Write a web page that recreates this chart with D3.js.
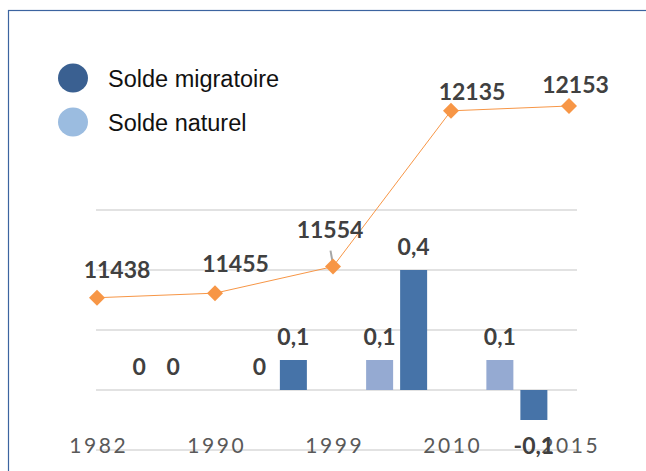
<!DOCTYPE html>
<html>
<head>
<meta charset="utf-8">
<script src="https://cdnjs.cloudflare.com/ajax/libs/d3/7.8.5/d3.min.js"></script>
<style>
	html, body { margin: 0; padding: 0; background: #fff; }
	svg { display: block; }
</style>
</head>
<body>
<div id="chart"></div>
<script>
//-------------------------------------
// data
//-------------------------------------
var years = ["1982", "1990", "1999", "2010", "2015"];
var population = [11438, 11455, 11554, 12135, 12153];

var periods = ["1982-1990", "1990-1999", "1999-2010", "2010-2015"];
var soldeNaturel = [0, 0, 0.1, 0.1];
var soldeMigratoire = [0, 0.1, 0.4, -0.1];

var gridValues = [-0.2, 0, 0.2, 0.4, 0.6];

var legendLabels = ["Solde migratoire", "Solde naturel"];

// label nudges (dx, dy of the population labels)
var popLabelNudge = [[20, -20], [20.5, -21], [-3, -29], [21, -11], [6.5, -13.5]];

//-------------------------------------
// field
//-------------------------------------
var width = 646;
var height = 471;

var svg = d3.select("#chart")
	.append("svg")
	.attr("width", width)
	.attr("height", height)
	.style("background", "#fff");

// frame
svg.append("rect")
	.attr("x", 8.5)
	.attr("y", 10.5)
	.attr("width", 700)
	.attr("height", 500)
	.style("fill", "none")
	.style("stroke", "#3c64a0")
	.style("stroke-width", 1.2);

//-------------------------------------
// scales
//-------------------------------------
var x0 = d3.scaleBand()
	.domain(periods)
	.range([96, 577])
	.padding(0);

var x1 = d3.scaleBand()
	.domain(["naturel", "migratoire"])
	.range([x0.bandwidth() / 2 - 30.5, x0.bandwidth() / 2 + 30.5])
	.paddingInner(7 / 34);

var yBar = d3.scaleLinear()
	.domain([-0.2, 0.6])
	.range([450, 210]);

var xLine = d3.scalePoint()
	.domain(years)
	.range([97, 569]);

var yLine = d3.scaleLinear()
	.domain([11400, 12200])
	.range([307.9, 93.4]);

var barColors = { naturel: "#95aad2", migratoire: "#4673a8" };
var legendColors = ["#3a6091", "#9bbce0"];

//-------------------------------------
// grid
//-------------------------------------
svg.append("g")
	.selectAll("line")
	.data(gridValues)
	.enter()
	.append("line")
	.attr("x1", 96)
	.attr("x2", 577)
	.attr("y1", function(d) { return yBar(d); })
	.attr("y2", function(d) { return yBar(d); })
	.style("stroke", "#d9d9d9")
	.style("stroke-width", 1.6);

//-------------------------------------
// x axis labels
//-------------------------------------
var xAxis = d3.axisBottom(xLine).tickSize(0).tickPadding(0);
var axisG = svg.append("g")
	.attr("transform", "translate(0,438)")
	.call(xAxis);
axisG.select(".domain").remove();
axisG.selectAll("text")
	.attr("dy", 0)
	.attr("y", 15)
	.attr("dx", 1.3)
	.style("font-family", "Lato, 'Open Sans', sans-serif")
	.style("font-size", "21px")
	.style("letter-spacing", "2.6px")
	.style("fill", "#595959");

//-------------------------------------
// bars
//-------------------------------------
var barData = [];
periods.forEach(function(p, i) {
	barData.push({ period: p, key: "naturel", value: soldeNaturel[i] });
	barData.push({ period: p, key: "migratoire", value: soldeMigratoire[i] });
});

var barG = svg.append("g");

barG.selectAll("rect")
	.data(barData)
	.enter()
	.append("rect")
	.attr("x", function(d) { return x0(d.period) + x1(d.key); })
	.attr("width", x1.bandwidth())
	.attr("y", function(d) { return yBar(Math.max(0, d.value)); })
	.attr("height", function(d) { return Math.abs(yBar(d.value) - yBar(0)); })
	.style("fill", function(d) { return barColors[d.key]; });

barG.selectAll("text")
	.data(barData)
	.enter()
	.append("text")
	.attr("x", function(d) { return x0(d.period) + x1(d.key) + x1.bandwidth() / 2; })
	.attr("y", function(d) {
		return d.value < 0 ? yBar(d.value) + 34 : yBar(d.value) - 15;
	})
	.attr("text-anchor", "middle")
	.style("font-family", "Lato, 'Open Sans', sans-serif")
	.style("font-weight", 700)
	.style("font-size", "23px")
	.style("fill", "#404040")
	.text(function(d) { return String(d.value).replace(".", ","); });

//-------------------------------------
// population line
//-------------------------------------
var line = d3.line()
	.x(function(d, i) { return xLine(years[i]); })
	.y(function(d) { return yLine(d); });

svg.append("path")
	.datum(population)
	.attr("d", line)
	.style("fill", "none")
	.style("stroke", "#f79646")
	.style("stroke-width", 1);

// leader line of 11554
svg.append("line")
	.attr("x1", xLine("1999") - 2.5)
	.attr("y1", yLine(population[2]) - 16)
	.attr("x2", xLine("1999") - 0.5)
	.attr("y2", yLine(population[2]) - 5)
	.style("stroke", "#a6a6a6")
	.style("stroke-width", 2);

svg.append("g")
	.selectAll("path")
	.data(population)
	.enter()
	.append("path")
	.attr("d", d3.symbol(d3.symbolSquare, 128))
	.attr("transform", function(d, i) {
		return "translate(" + xLine(years[i]) + "," + yLine(d) + ") rotate(45)";
	})
	.style("fill", "#f79646");

svg.append("g")
	.selectAll("text")
	.data(population)
	.enter()
	.append("text")
	.attr("x", function(d, i) { return xLine(years[i]) + popLabelNudge[i][0]; })
	.attr("y", function(d, i) { return yLine(d) + popLabelNudge[i][1]; })
	.attr("text-anchor", "middle")
	.style("font-family", "Lato, 'Open Sans', sans-serif")
	.style("font-weight", 700)
	.style("font-size", "23px")
	.style("fill", "#404040")
	.text(function(d) { return d; });

//-------------------------------------
// legend
//-------------------------------------
var legend = svg.append("g")
	.selectAll("g")
	.data(legendLabels)
	.enter()
	.append("g")
	.attr("transform", function(d, i) { return "translate(0," + (i * 44) + ")"; });

legend.append("ellipse")
	.attr("cx", 73)
	.attr("cy", 78)
	.attr("rx", 15)
	.attr("ry", 14.5)
	.style("fill", function(d, i) { return legendColors[i]; });

legend.append("text")
	.attr("x", 108)
	.attr("y", 87.3)
	.style("font-family", "'Liberation Sans', Arial, sans-serif")
	.style("font-size", "23.5px")
	.style("fill", "#111")
	.text(function(d) { return d; });
</script>
</body>
</html>
